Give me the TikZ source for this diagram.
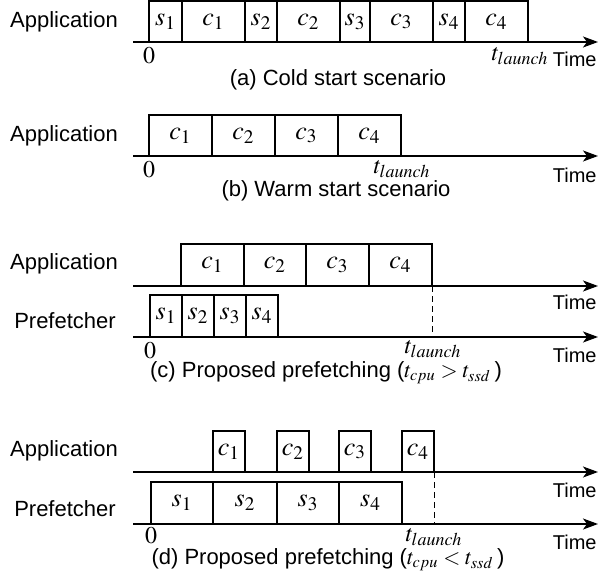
\documentclass[tikz,border=0pt]{standalone}
\usepackage{mathptmx}
\usepackage[no-math]{fontspec}
\setmainfont{Liberation Sans}
\usetikzlibrary{arrows.meta}

\tikzset{
  axis/.style={line width=0.8pt, -{Stealth[length=7.5pt,width=5.5pt,inset=2pt]}},
  slot/.style={line width=0.6pt},
  lbl/.style={font=\fontsize{11}{13}\selectfont},
  mlbl/.style={font=\fontsize{13}{15}\selectfont},
  tlbl/.style={font=\fontsize{12}{14}\selectfont, inner sep=1pt},
  timelbl/.style={font=\fontsize{10}{12}\selectfont, anchor=east, inner sep=0pt},
}

\begin{document}
\begin{tikzpicture}[x=0.5pt, y=-0.5pt]
\useasboundingbox (0,0) rectangle (598,582);

% (a) cold start
\draw [slot] (149,1) rectangle node [mlbl] (a-s1) {$s_1$} (182,42);
\draw [slot] (182,1) rectangle node [mlbl] (a-c1) {$c_1$} (245,42);
\draw [slot] (245,1) rectangle node [mlbl] (a-s2) {$s_2$} (277,42);
\draw [slot] (277,1) rectangle node [mlbl] (a-c2) {$c_2$} (340,42);
\draw [slot] (340,1) rectangle node [mlbl] (a-s3) {$s_3$} (370,42);
\draw [slot] (370,1) rectangle node [mlbl] (a-c3) {$c_3$} (433,42);
\draw [slot] (433,1) rectangle node [mlbl] (a-s4) {$s_4$} (465,42);
\draw [slot] (465,1) rectangle node [mlbl] (a-c4) {$c_4$} (528,42);

\coordinate (a-from) at (133,42);
\coordinate (a-to) at (598,42);
\draw [axis] (a-from) -- (a-to);

\node [lbl] (a-app) at (64,21.5) {Application};
\node [tlbl] (a-zero) at (149,56) {$0$};
\node [tlbl] (a-tl) at (520,56) {$t_{launch}$};
\node [timelbl] (a-time) at (597,59) {Time};
\node [lbl] (a-cap) at (338,80) {(a) Cold start scenario};

% (b) warm start
\draw [slot] (149,115) rectangle node [mlbl] (b-c1) {$c_1$} (212,156);
\draw [slot] (212,115) rectangle node [mlbl] (b-c2) {$c_2$} (275,156);
\draw [slot] (275,115) rectangle node [mlbl] (b-c3) {$c_3$} (338,156);
\draw [slot] (338,115) rectangle node [mlbl] (b-c4) {$c_4$} (401,156);

\coordinate (b-from) at (133,156);
\coordinate (b-to) at (598,156);
\draw [axis] (b-from) -- (b-to);

\node [lbl] (b-app) at (64,135.5) {Application};
\node [tlbl] (b-zero) at (149,170) {$0$};
\node [tlbl] (b-tl) at (402,169) {$t_{launch}$};
\node [timelbl] (b-time) at (597,175) {Time};
\node [lbl] (b-cap) at (336,191) {(b) Warm start scenario};

% (c) prefetching, t_cpu > t_ssd
\draw [slot] (181,244) rectangle node [mlbl] (c-c1) {$c_1$} (244,286);
\draw [slot] (244,244) rectangle node [mlbl] (c-c2) {$c_2$} (306,286);
\draw [slot] (306,244) rectangle node [mlbl] (c-c3) {$c_3$} (369,286);
\draw [slot] (369,244) rectangle node [mlbl] (c-c4) {$c_4$} (432,286);

\draw [slot] (150,295) rectangle node [mlbl] (c-s1) {$s_1$} (182,337);
\draw [slot] (182,295) rectangle node [mlbl] (c-s2) {$s_2$} (214,337);
\draw [slot] (214,295) rectangle node [mlbl] (c-s3) {$s_3$} (246,337);
\draw [slot] (246,295) rectangle node [mlbl] (c-s4) {$s_4$} (278,337);

\coordinate (c-from) at (133,286);
\coordinate (c-to) at (598,286);
\coordinate (c-from2) at (133,337);
\coordinate (c-to2) at (598,337);
\draw [axis] (c-from) -- (c-to);
\draw [axis] (c-from2) -- (c-to2);
\coordinate (c-up) at (432,286);
\coordinate (c-down) at (432,337);
\draw [line width=0.4pt, dash pattern=on 3pt off 2pt] (c-up) -- (c-down);

\node [lbl] (c-app) at (64,264) {Application};
\node [lbl] (c-pref) at (65,321) {Prefetcher};
\node [timelbl] (c-time) at (597,302) {Time};
\node [tlbl] (c-zero) at (150,351) {$0$};
\node [tlbl] (c-tl) at (433,349) {$t_{launch}$};
\node [timelbl] (c-time2) at (597,355) {Time};
\node [lbl] (c-cap) at (326,373) {(c) Proposed prefetching ($t_{cpu} > t_{ssd}$\,)};

% (d) prefetching, t_cpu < t_ssd
\draw [slot] (213,431) rectangle node [mlbl] (d-c1) {$c_1$} (245,472);
\draw [slot] (277,431) rectangle node [mlbl] (d-c2) {$c_2$} (309,472);
\draw [slot] (339,431) rectangle node [mlbl] (d-c3) {$c_3$} (371,472);
\draw [slot] (402,431) rectangle node [mlbl] (d-c4) {$c_4$} (434,472);

\draw [slot] (151,482) rectangle node [mlbl] (d-s1) {$s_1$} (213,524);
\draw [slot] (213,482) rectangle node [mlbl] (d-s2) {$s_2$} (277,524);
\draw [slot] (277,482) rectangle node [mlbl] (d-s3) {$s_3$} (339,524);
\draw [slot] (339,482) rectangle node [mlbl] (d-s4) {$s_4$} (402,524);

\coordinate (d-from) at (133,472);
\coordinate (d-to) at (598,472);
\coordinate (d-from2) at (133,524);
\coordinate (d-to2) at (598,524);
\draw [axis] (d-from) -- (d-to);
\draw [axis] (d-from2) -- (d-to2);
\coordinate (d-up) at (434,472);
\coordinate (d-down) at (434,524);
\draw [line width=0.4pt, dash pattern=on 3pt off 2pt] (d-up) -- (d-down);

\node [lbl] (d-app) at (64,451) {Application};
\node [lbl] (d-pref) at (65,509) {Prefetcher};
\node [timelbl] (d-time) at (597,490) {Time};
\node [tlbl] (d-zero) at (151,536) {$0$};
\node [tlbl] (d-tl) at (434,537) {$t_{launch}$};
\node [timelbl] (d-time2) at (597,542) {Time};
\node [lbl] (d-cap) at (328,560) {(d) Proposed prefetching ($t_{cpu} < t_{ssd}$\,)};
\end{tikzpicture}
\end{document}
